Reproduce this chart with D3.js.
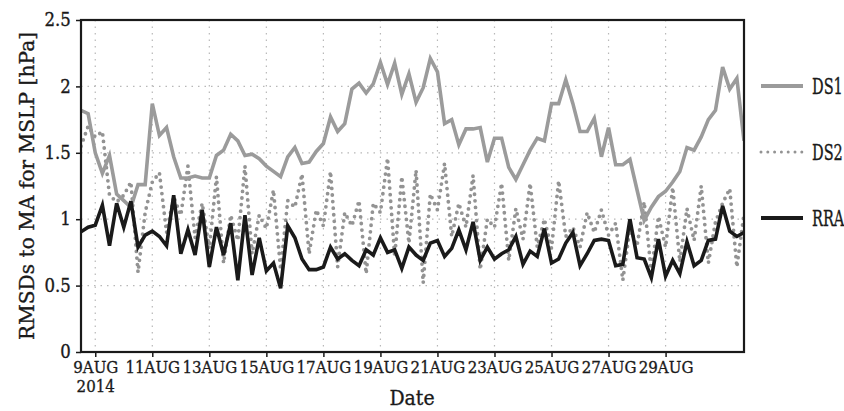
<!DOCTYPE html>
<html>
<head>
<meta charset="utf-8">
<script src="https://cdn.jsdelivr.net/npm/d3@7"></script>
<style>
  html, body { margin: 0; padding: 0; background: #fff; }
  svg { display: block; }
  text { font-family: "DejaVu Serif", serif; fill: #1a1a1a; stroke: #1a1a1a; stroke-width: 0.35px; }
</style>
</head>
<body>
<svg id="chart" width="844" height="411"></svg>
<script>
// 6-hourly RMSDs of MSLP against MA, starting 8 Aug 2014 12 UTC
const startTime = "2014-08-08T12:00Z";
const stepHours = 6;

const ds1 = [1.82, 1.795, 1.50, 1.345, 1.48, 1.19, 1.14, 1.09, 1.26, 1.26,
  1.87, 1.63, 1.69, 1.47, 1.31, 1.31, 1.325, 1.31, 1.31, 1.48,
  1.52, 1.64, 1.59, 1.48, 1.49, 1.456, 1.40, 1.36, 1.32, 1.47,
  1.54, 1.42, 1.43, 1.51, 1.57, 1.77, 1.66, 1.72, 1.98, 2.025,
  1.95, 2.02, 2.18, 2.015, 2.175, 1.94, 2.095, 1.88, 1.99, 2.21,
  2.11, 1.72, 1.75, 1.56, 1.68, 1.68, 1.69, 1.43, 1.61, 1.61,
  1.39, 1.30, 1.41, 1.52, 1.61, 1.59, 1.87, 1.87, 2.05, 1.87,
  1.66, 1.66, 1.76, 1.47, 1.69, 1.41, 1.41, 1.45, 1.22, 0.99,
  1.09, 1.17, 1.21, 1.28, 1.36, 1.54, 1.52, 1.62, 1.75, 1.82,
  2.145, 1.98, 2.06, 1.59];

const ds2 = [1.55, 1.70, 1.62, 1.66, 1.18, 1.13, 1.18, 1.28, 0.60, 1.05,
  1.28, 1.35, 0.90, 1.17, 1.03, 1.40, 0.86, 1.12, 0.78, 1.32,
  0.67, 1.03, 0.84, 1.40, 0.74, 1.03, 0.93, 1.22, 0.62, 1.14,
  1.09, 1.34, 0.74, 1.07, 0.95, 1.36, 0.64, 1.05, 0.95, 1.14,
  0.59, 1.12, 1.05, 1.46, 0.72, 1.32, 0.82, 1.37, 0.52, 1.19,
  1.07, 1.42, 0.87, 1.12, 0.94, 1.33, 0.62, 1.00, 0.94, 1.27,
  0.69, 1.08, 0.85, 1.27, 0.79, 1.00, 0.78, 1.29, 0.87, 0.94,
  0.79, 1.05, 0.90, 1.07, 0.88, 0.97, 0.54, 0.93, 0.80, 1.13,
  0.60, 1.02, 0.79, 1.24, 0.68, 1.08, 0.84, 1.25, 0.67, 0.98,
  1.12, 1.23, 0.64, 1.04];

const rra = [0.905, 0.94, 0.955, 1.105, 0.80, 1.12, 0.94, 1.135, 0.79, 0.88,
  0.91, 0.87, 0.80, 1.18, 0.74, 0.92, 0.73, 1.07, 0.64, 0.94,
  0.73, 0.97, 0.54, 1.03, 0.58, 0.86, 0.61, 0.67, 0.48, 0.95,
  0.86, 0.70, 0.62, 0.62, 0.64, 0.79, 0.70, 0.74, 0.69, 0.65,
  0.77, 0.73, 0.86, 0.75, 0.77, 0.63, 0.79, 0.73, 0.69, 0.82,
  0.84, 0.72, 0.78, 0.92, 0.77, 0.98, 0.69, 0.79, 0.70, 0.74,
  0.77, 0.87, 0.66, 0.76, 0.72, 0.93, 0.67, 0.70, 0.82, 0.90,
  0.65, 0.74, 0.84, 0.85, 0.84, 0.65, 0.66, 1.00, 0.71, 0.70,
  0.56, 0.85, 0.57, 0.69, 0.59, 0.83, 0.65, 0.69, 0.84, 0.85,
  1.10, 0.91, 0.87, 0.90];

const seriesNames = ["DS1", "DS2", "RRA"];

const xTickDates = ["2014-08-09", "2014-08-11", "2014-08-13", "2014-08-15", "2014-08-17",
  "2014-08-19", "2014-08-21", "2014-08-23", "2014-08-25", "2014-08-27", "2014-08-29"];
const xTickLabels = ["9AUG", "11AUG", "13AUG", "15AUG", "17AUG", "19AUG",
  "21AUG", "23AUG", "25AUG", "27AUG", "29AUG"];
const yearLabel = "2014";

const yTicks = [0, 0.5, 1, 1.5, 2, 2.5];
const yTickLabels = ["0", "0.5", "1", "1.5", "2", "2.5"];

const xTitle = "Date";
const yTitle = "RMSDs to MA for MSLP [hPa]";

// ---- layout ----
const plot = { left: 81, right: 744, top: 20, bottom: 352 };

const t0 = d3.isoParse(startTime);
const times = ds1.map((_, i) => d3.utcHour.offset(t0, stepHours * i));
const parseDay = d3.utcParse("%Y-%m-%d");
const tickTimes = xTickDates.map(parseDay);

const x = d3.scaleUtc()
  .domain([times[0], times[times.length - 1]])
  .range([plot.left, plot.right]);
const y = d3.scaleLinear().domain([0, 2.5]).range([plot.bottom, plot.top]);

const svg = d3.select("#chart");

// grid
const grid = svg.append("g")
  .attr("stroke", "#b8b8b8")
  .attr("stroke-width", 1.2)
  .attr("stroke-dasharray", "1.5 5");
grid.selectAll("line.v").data(tickTimes).join("line")
  .attr("class", "v")
  .attr("x1", d => x(d)).attr("x2", d => x(d))
  .attr("y1", plot.top).attr("y2", plot.bottom);
grid.selectAll("line.h").data(yTicks.filter(v => v > 0 && v < 2.5)).join("line")
  .attr("class", "h")
  .attr("x1", plot.left).attr("x2", plot.right)
  .attr("y1", d => y(d)).attr("y2", d => y(d));

// series
svg.append("clipPath").attr("id", "clip")
  .append("rect")
  .attr("x", plot.left).attr("y", plot.top)
  .attr("width", plot.right - plot.left).attr("height", plot.bottom - plot.top);

const line = d3.line().x((d, i) => x(times[i])).y(d => y(d));
const styles = {
  DS1: { data: ds1, color: "#9b9b9b", width: 3.6, dash: null },
  DS2: { data: ds2, color: "#939393", width: 3.8, dash: "0 6.6" },
  RRA: { data: rra, color: "#1a1a1a", width: 3.6, dash: null }
};
const lines = svg.append("g").attr("clip-path", "url(#clip)");
["DS2", "DS1", "RRA"].forEach(name => {
  const s = styles[name];
  lines.append("path")
    .datum(s.data)
    .attr("fill", "none")
    .attr("stroke", s.color)
    .attr("stroke-width", s.width)
    .attr("stroke-linejoin", "miter")
    .attr("stroke-linecap", s.dash ? "round" : "butt")
    .attr("stroke-dasharray", s.dash)
    .attr("d", line);
});

// axes
const xAxis = d3.axisBottom(x)
  .tickValues(tickTimes)
  .tickFormat((d, i) => xTickLabels[i])
  .tickSizeInner(5).tickSizeOuter(0).tickPadding(4);
const gx = svg.append("g").attr("transform", `translate(0,${plot.bottom})`).call(xAxis);
gx.select(".domain").remove();
gx.selectAll(".tick line").attr("stroke", "#1a1a1a").attr("stroke-width", 1.5);
gx.selectAll(".tick text")
  .attr("font-size", 17.5).attr("fill", "#1a1a1a")
  .attr("font-family", "DejaVu Serif, serif")
  .attr("y", 8).attr("dy", "0.75em")
  .attr("transform", "scale(0.86,1)");
gx.select(".tick text").clone()
  .text(yearLabel).attr("y", 27);

const yAxis = d3.axisLeft(y)
  .tickValues(yTicks)
  .tickFormat((d, i) => yTickLabels[i])
  .tickSizeInner(5).tickSizeOuter(0).tickPadding(6);
const gy = svg.append("g").attr("transform", `translate(${plot.left},0)`).call(yAxis);
gy.select(".domain").remove();
gy.selectAll(".tick line").attr("stroke", "#1a1a1a").attr("stroke-width", 1.5);
gy.selectAll(".tick text")
  .attr("font-size", 18).attr("fill", "#1a1a1a")
  .attr("font-family", "DejaVu Serif, serif")
  .attr("transform", "scale(0.92,1)");

// frame
svg.append("rect")
  .attr("x", plot.left).attr("y", plot.top)
  .attr("width", plot.right - plot.left).attr("height", plot.bottom - plot.top)
  .attr("fill", "none").attr("stroke", "#1a1a1a").attr("stroke-width", 2.2);

// titles
svg.append("text")
  .attr("transform", "translate(412,405) scale(0.9,1)")
  .attr("text-anchor", "middle")
  .attr("font-size", 21)
  .text(xTitle);
svg.append("text")
  .attr("transform", "translate(34,186) rotate(-90)")
  .attr("text-anchor", "middle")
  .attr("font-size", 20)
  .attr("textLength", 308)
  .attr("lengthAdjust", "spacing")
  .text(yTitle);

// legend
const legendY = [86, 152, 218];
const legend = svg.append("g");
seriesNames.forEach((name, i) => {
  const s = styles[name];
  legend.append("line")
    .attr("x1", 761).attr("x2", 803)
    .attr("y1", legendY[i]).attr("y2", legendY[i])
    .attr("stroke", s.color)
    .attr("stroke-width", s.dash ? 3 : 3.8)
    .attr("stroke-linecap", s.dash ? "round" : "butt")
    .attr("stroke-dasharray", s.dash ? "0 6.8" : null);
  legend.append("text")
    .attr("transform", `translate(812,${legendY[i]}) scale(0.66,1)`)
    .attr("dy", "0.36em")
    .attr("font-size", 22)
    .text(name);
});
</script>
</body>
</html>
